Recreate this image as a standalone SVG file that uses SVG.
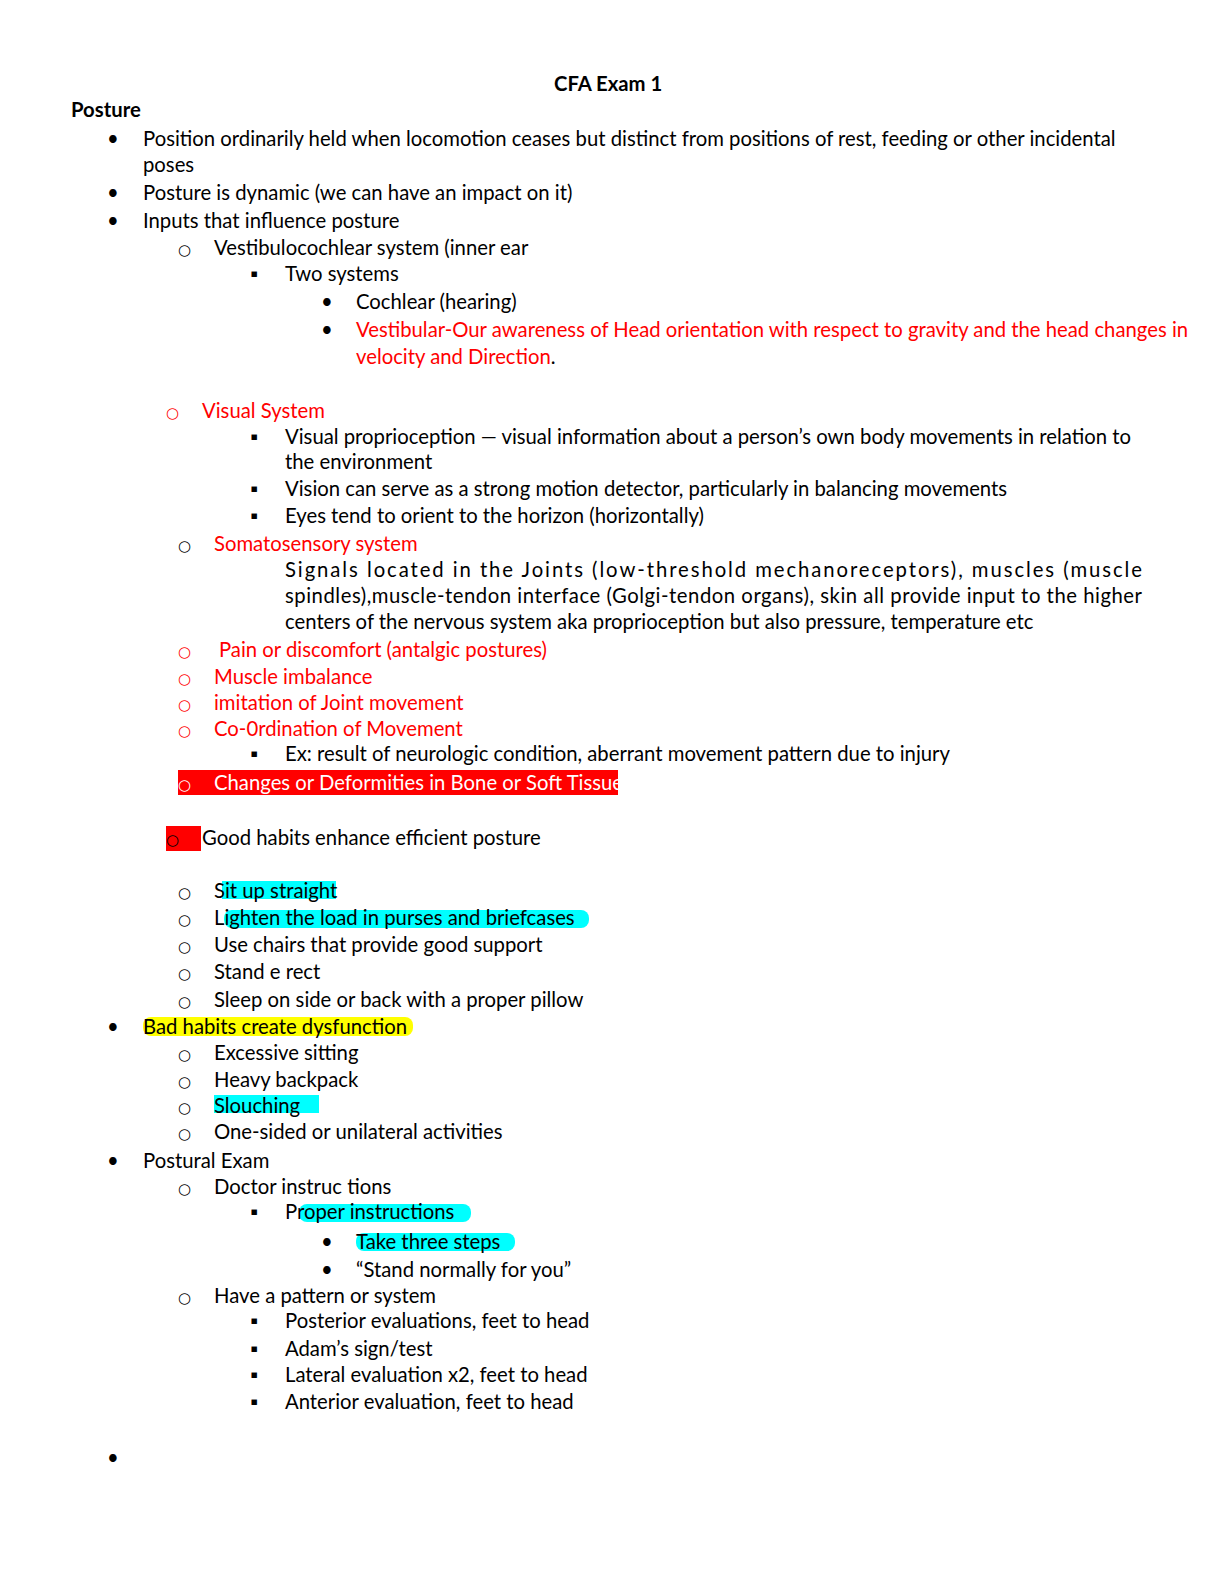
<svg xmlns="http://www.w3.org/2000/svg" width="1224" height="1584" viewBox="0 0 1224 1584">
<style>
text{font-family:Lato,"Open Sans","Liberation Sans",sans-serif;font-size:20.3px;fill:#000}
.o{font-family:"DejaVu Sans",sans-serif;font-size:15px}
.r{fill:#ff0000}.w{fill:#fff}.b{font-weight:bold}
.cy{fill:#00ffff}.ye{fill:#ffff00}.rd{fill:#ff0000}
</style>
<rect width="1224" height="1584" fill="#fff"/>
<rect class="cy" x="222" y="881" width="114" height="18"/>
<rect class="cy" x="224" y="910" width="365" height="18" rx="8"/>
<rect class="ye" x="143" y="1017" width="270" height="19" rx="8"/>
<rect class="cy" x="214" y="1095" width="105" height="18"/>
<rect class="cy" x="299" y="1204" width="172" height="18" rx="8"/>
<rect class="cy" x="356" y="1233" width="159" height="18" rx="8"/>
<rect class="rd" x="178" y="770" width="440" height="25"/>
<rect class="rd" x="166" y="826" width="35" height="25"/>
<text class="b" x="554" y="91">CFA Exam 1</text>
<text class="b" x="71" y="117">Posture</text>
<text x="107" y="146">•</text><text x="143" y="146">Position ordinarily held when locomotion ceases but distinct from positions of rest, feeding or other incidental</text>
<text x="143" y="172">poses</text>
<text x="107" y="200">•</text><text x="143" y="200">Posture is dynamic (we can have an impact on it)</text>
<text x="107" y="228">•</text><text x="143" y="228">Inputs that influence posture</text>
<text class="o" x="178" y="255">○</text><text x="214" y="255">Vestibulocochlear system (inner ear</text>
<text x="250" y="281">▪</text><text x="285" y="281">Two systems</text>
<text x="321" y="309">•</text><text x="356" y="309">Cochlear (hearing)</text>
<text x="321" y="337">•</text><text class="r" x="356" y="337">Vestibular-Our awareness of Head orientation with respect to gravity and the head changes in</text>
<text x="356" y="364"><tspan class="r">velocity and Direction</tspan>.</text>
<text class="r o" x="166" y="418">○</text><text class="r" x="202" y="418">Visual System</text>
<text x="250" y="444">▪</text><text x="285" y="444">Visual proprioception — visual information about a person’s own body movements in relation to</text>
<text x="285" y="469">the environment</text>
<text x="250" y="496">▪</text><text x="285" y="496">Vision can serve as a strong motion detector, particularly in balancing movements</text>
<text x="250" y="523">▪</text><text x="285" y="523">Eyes tend to orient to the horizon (horizontally)</text>
<text class="o" x="178" y="551">○</text><text class="r" x="214" y="551">Somatosensory system</text>
<text x="285" y="577" textLength="857" lengthAdjust="spacing">Signals located in the Joints (low-threshold mechanoreceptors), muscles (muscle</text>
<text x="285" y="603" textLength="857" lengthAdjust="spacing">spindles),muscle-tendon interface (Golgi-tendon organs), skin all provide input to the higher</text>
<text x="285" y="629">centers of the nervous system aka proprioception but also pressure, temperature etc</text>
<text class="r o" x="178" y="657">○</text><text class="r" x="219" y="657">Pain or discomfort (antalgic postures)</text>
<text class="r o" x="178" y="684">○</text><text class="r" x="214" y="684">Muscle imbalance</text>
<text class="r o" x="178" y="710">○</text><text class="r" x="214" y="710">imitation of Joint movement</text>
<text class="r o" x="178" y="736">○</text><text class="r" x="214" y="736">Co-0rdination of Movement</text>
<text x="250" y="761">▪</text><text x="285" y="761">Ex: result of neurologic condition, aberrant movement pattern due to injury</text>
<text class="w o" x="178" y="790">○</text><text class="w" x="214" y="790">Changes or Deformities in Bone or Soft Tissue</text>
<text class="o" x="166" y="845">○</text><text x="202" y="845">Good habits enhance efficient posture</text>
<text class="o" x="178" y="898">○</text><text x="214" y="898">Sit up straight</text>
<text class="o" x="178" y="925">○</text><text x="214" y="925">Lighten the load in purses and briefcases</text>
<text class="o" x="178" y="952">○</text><text x="214" y="952">Use chairs that provide good support</text>
<text class="o" x="178" y="979">○</text><text x="214" y="979">Stand e rect</text>
<text class="o" x="178" y="1007">○</text><text x="214" y="1007">Sleep on side or back with a proper pillow</text>
<text x="107" y="1034">•</text><text x="143" y="1034">Bad habits create dysfunction</text>
<text class="o" x="178" y="1060">○</text><text x="214" y="1060">Excessive sitting</text>
<text class="o" x="178" y="1087">○</text><text x="214" y="1087">Heavy backpack</text>
<text class="o" x="178" y="1113">○</text><text x="214" y="1113">Slouching</text>
<text class="o" x="178" y="1139">○</text><text x="214" y="1139">One-sided or unilateral activities</text>
<text x="107" y="1168">•</text><text x="143" y="1168">Postural Exam</text>
<text class="o" x="178" y="1194">○</text><text x="214" y="1194">Doctor instruc tions</text>
<text x="250" y="1219">▪</text><text x="285" y="1219">Proper instructions</text>
<text x="321" y="1249">•</text><text x="356" y="1249">Take three steps</text>
<text x="321" y="1277">•</text><text x="356" y="1277">“Stand normally for you”</text>
<text class="o" x="178" y="1303">○</text><text x="214" y="1303">Have a pattern or system</text>
<text x="250" y="1328">▪</text><text x="285" y="1328">Posterior evaluations, feet to head</text>
<text x="250" y="1356">▪</text><text x="285" y="1356">Adam’s sign/test</text>
<text x="250" y="1382">▪</text><text x="285" y="1382">Lateral evaluation x2, feet to head</text>
<text x="250" y="1409">▪</text><text x="285" y="1409">Anterior evaluation, feet to head</text>
<text x="107" y="1465">•</text>
</svg>
